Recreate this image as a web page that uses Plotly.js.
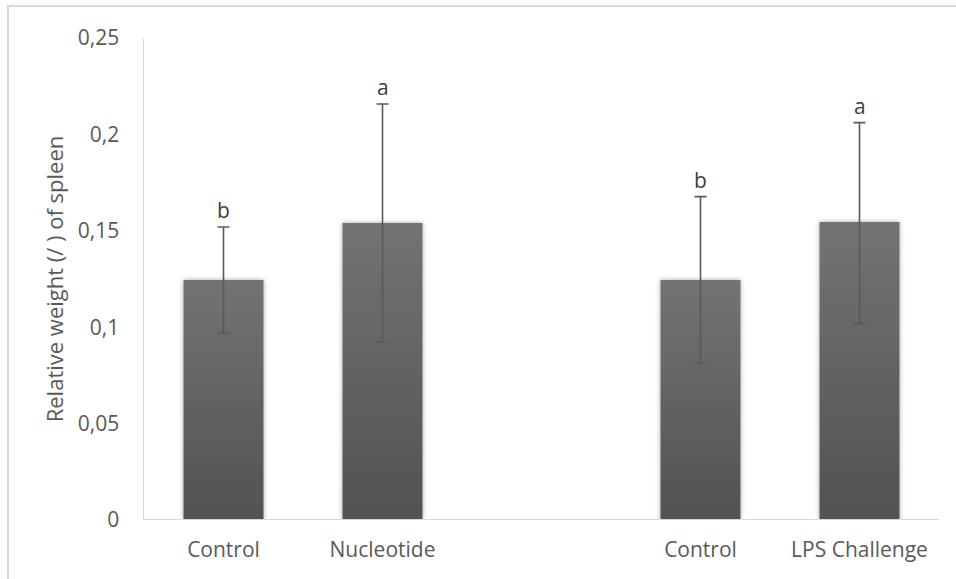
<!DOCTYPE html>
<html>
<head>
<meta charset="utf-8">
<script src="https://cdn.plot.ly/plotly-3.0.1.min.js"></script>
<style>
  html, body { margin: 0; padding: 0; background: #fff; overflow: hidden; width: 956px; height: 579px; }
  #frame { position: absolute; left: 7px; top: 5px; width: 949px; height: 574px; border-top: 2px solid #d9d9d9; border-left: 2px solid #d9d9d9; box-sizing: border-box; }
  #chart { position: absolute; left: 0; top: 0; width: 956px; height: 579px; }
</style>
</head>
<body>
<div id="frame"></div>
<div id="chart"></div>
<script>
// Data
const categories = ["Control", "Nucleotide", "Control", "LPS Challenge"];
const slotIndex = [0, 1, 3, 4];          // third slot left empty as a group gap
const means = [0.1245, 0.1540, 0.1245, 0.1546];
const errUpper = [0.0275, 0.0618, 0.0432, 0.0515];
const errLower = [0.0275, 0.0617, 0.0431, 0.0526];
const letters = ["b", "a", "b", "a"];
const yTicks = [0, 0.05, 0.1, 0.15, 0.2, 0.25];

const textColor = "#595959";
const font = "'Open Sans', 'Liberation Sans', sans-serif";
const fs = 21;

const trace = {
  type: "bar",
  x: slotIndex,
  y: means,
  width: 0.503,
  marker: { color: "#636363", line: { width: 0 } },
  error_y: {
    type: "data",
    symmetric: false,
    array: errUpper,
    arrayminus: errLower,
    color: "#595959",
    thickness: 1.6,
    width: 6
  },
  hoverinfo: "skip"
};

const annotations = slotIndex.map((s, i) => ({
  x: s, y: means[i] + errUpper[i], xref: "x", yref: "y",
  text: letters[i], showarrow: false, yanchor: "bottom", yshift: 1,
  font: { family: font, size: fs, color: "#404040" }
}));

const layout = {
  width: 956, height: 579,
  margin: { l: 144, r: 17, t: 38, b: 59 },
  paper_bgcolor: "rgba(0,0,0,0)",
  plot_bgcolor: "rgba(0,0,0,0)",
  separators: ",.",
  showlegend: false,
  font: { family: font, color: textColor, size: fs },
  xaxis: {
    range: [-0.5, 4.5],
    tickmode: "array",
    tickvals: slotIndex,
    ticktext: categories,
    showgrid: false, zeroline: false,
    showline: false,
    ticks: "",
    ticklabelstandoff: 15,
    tickfont: { family: font, size: fs, color: textColor },
    fixedrange: true
  },
  yaxis: {
    range: [0, 0.25],
    tickmode: "array",
    tickvals: yTicks,
    ticktext: yTicks.map(v => String(v).replace(".", ",")),
    showgrid: false, zeroline: false,
    showline: true, linecolor: "#d9d9d9", linewidth: 1.5,
    ticks: "",
    ticklabelstandoff: 19,
    tickfont: { family: font, size: fs, color: textColor },
    title: { text: "Relative weight (/ ) of spleen", font: { family: font, size: 22, color: textColor }, standoff: 8 },
    fixedrange: true
  },
  shapes: [{
    type: "line", xref: "paper", yref: "y", x0: 0, x1: 1, y0: 0, y1: 0,
    line: { color: "#d9d9d9", width: 2 }
  }],
  annotations: annotations
};

Plotly.newPlot("chart", [trace], layout, { displayModeBar: false, staticPlot: true }).then(gd => {
  const svg = gd.querySelector("svg.main-svg");
  const ns = "http://www.w3.org/2000/svg";
  let defs = svg.querySelector("defs");
  if (!defs) { defs = document.createElementNS(ns, "defs"); svg.insertBefore(defs, svg.firstChild); }
  const grad = document.createElementNS(ns, "linearGradient");
  grad.setAttribute("id", "barGrad");
  grad.setAttribute("x1", "0"); grad.setAttribute("y1", "0");
  grad.setAttribute("x2", "0"); grad.setAttribute("y2", "1");
  [["0%", "#737373"], ["100%", "#525252"]].forEach(([o, c]) => {
    const st = document.createElementNS(ns, "stop");
    st.setAttribute("offset", o); st.setAttribute("stop-color", c);
    grad.appendChild(st);
  });
  defs.appendChild(grad);
  const filt = document.createElementNS(ns, "filter");
  filt.setAttribute("id", "barShadow");
  filt.setAttribute("x", "-20%"); filt.setAttribute("y", "-20%");
  filt.setAttribute("width", "140%"); filt.setAttribute("height", "140%");
  const ds = document.createElementNS(ns, "feDropShadow");
  ds.setAttribute("dx", "0"); ds.setAttribute("dy", "0");
  ds.setAttribute("stdDeviation", "2.5");
  ds.setAttribute("flood-color", "#000"); ds.setAttribute("flood-opacity", "0.35");
  filt.appendChild(ds);
  defs.appendChild(filt);
  gd.querySelectorAll(".bars .point path").forEach(p => {
    p.style.fill = "url(#barGrad)";
    p.setAttribute("filter", "url(#barShadow)");
  });
});
</script>
</body>
</html>
